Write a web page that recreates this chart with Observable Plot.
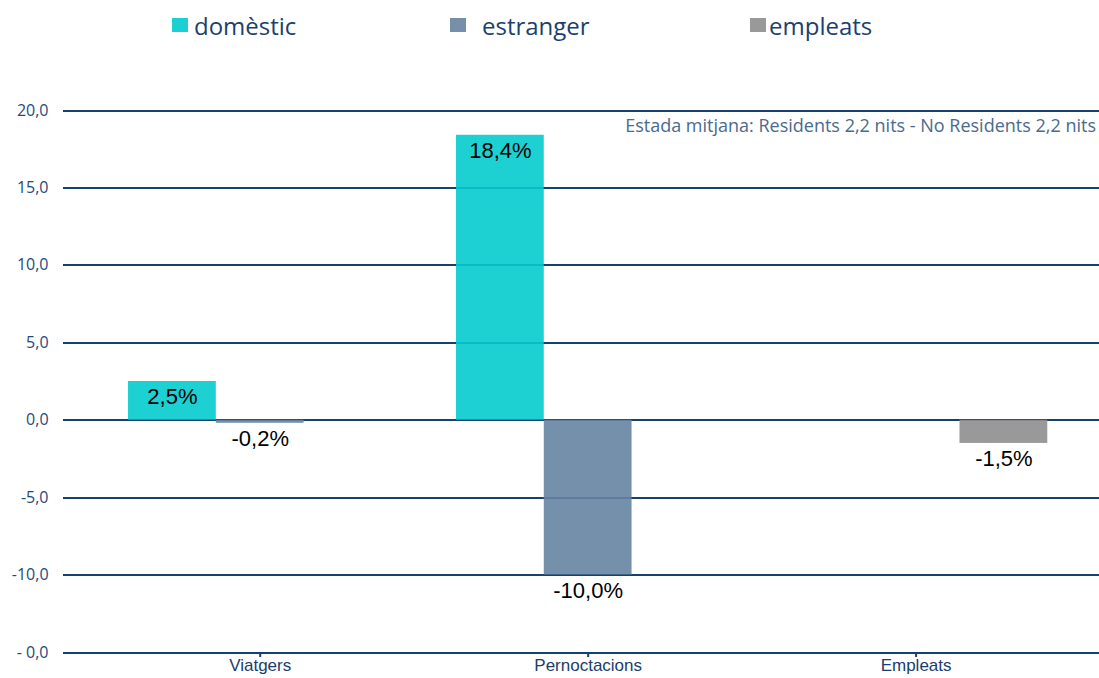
<!DOCTYPE html>
<html>
<head>
<meta charset="utf-8">
<script src="https://cdn.jsdelivr.net/npm/d3@7"></script>
<script src="https://cdn.jsdelivr.net/npm/@observablehq/plot@0.6"></script>
<style>
  html, body { margin: 0; padding: 0; background: #ffffff; }
  body { width: 1099px; height: 678px; overflow: hidden; position: relative; font-family: "Open Sans", sans-serif; }
  #legend { position: absolute; left: 0; top: 0; width: 1099px; height: 60px; }
  .item { position: absolute; top: 8px; height: 34px; display: flex; align-items: center; font-size: 24px; color: #1b3f6e; white-space: nowrap; }
  .sw { width: 16px; height: 14px; display: inline-block; }
  #note { position: absolute; right: 3px; top: 113px; font-size: 18px; line-height: 24px; color: #4a6a90; white-space: nowrap; }
  #chart { position: absolute; left: 0; top: 60px; }
</style>
</head>
<body>
<div id="legend"></div>
<div id="chart"></div>
<div id="note"></div>
<script>
// ---- data ----
const categories = ["Viatgers", "Pernoctacions", "Empleats"];
const seriesNames = ["domèstic", "estranger", "empleats"];
const domesticValues = [2.5, 18.4, null];
const foreignValues = [-0.2, -10.0, null];
const employeeValues = [null, null, -1.5];
const yTicks = [20, 15, 10, 5, 0, -5, -10, -15];
const yTickLabels = ["20,0", "15,0", "10,0", "5,0", "0,0", "-5,0", "-10,0", "- 0,0"];
const seriesColors = ["#04cbcd", "#6684a2", "#8e8e8e"];
const legendColors = ["#1bd0d2", "#7590ab", "#999999"];
const noteText = "Estada mitjana: Residents 2,2 nits - No Residents 2,2 nits";

// ---- table built from the arrays ----
const valueSets = [domesticValues, foreignValues, employeeValues];
const rows = [];
categories.forEach((cat, ci) => {
  seriesNames.forEach((s, si) => {
    const v = valueSets[si][ci];
    if (v != null) rows.push({category: cat, series: s, value: v});
  });
});
const fmt = v => v.toFixed(1).replace(".", ",") + "%";

// ---- legend (HTML) ----
const legendLayout = [
  {swatch: 172, text: 194},
  {swatch: 450, text: 482},
  {swatch: 750, text: 769}
];
const legend = document.getElementById("legend");
seriesNames.forEach((s, i) => {
  const sw = document.createElement("div");
  sw.className = "item";
  sw.style.left = legendLayout[i].swatch + "px";
  sw.innerHTML = `<span class="sw" style="background:${legendColors[i]}"></span>`;
  legend.appendChild(sw);
  const tx = document.createElement("div");
  tx.className = "item";
  tx.style.left = legendLayout[i].text + "px";
  tx.textContent = s;
  legend.appendChild(tx);
});
document.getElementById("note").textContent = noteText;

// ---- chart ----
const gridColor = "#15406f";
const chart = Plot.plot({
  width: 1099,
  height: 632,
  marginTop: 50,
  marginBottom: 40,
  marginLeft: 63,
  marginRight: 0,
  style: {background: "transparent", overflow: "visible"},
  fx: {domain: categories, paddingInner: 0.197, paddingOuter: 0.178, align: 0.557, round: false, label: null},
  x: {domain: seriesNames, padding: 0, round: false, axis: null},
  y: {domain: [-15, 20], axis: null},
  color: {domain: seriesNames, range: seriesColors},
  marks: [
    Plot.ruleY(yTicks, {stroke: gridColor, strokeWidth: 2, shapeRendering: "crispEdges", insetLeft: -65, insetRight: -52}),
    Plot.barY(rows, {fx: "category", x: "series", y: "value", fill: "series", fillOpacity: 0.9}),
    Plot.text(rows, {
      fx: "category", x: "series", y: "value",
      text: d => fmt(d.value),
      lineAnchor: "top", dy: 7,
      fill: "#000000", fontSize: 22, fontFamily: "Liberation Sans, Arial, sans-serif"
    }),
    Plot.axisY(yTicks, {
      tickSize: 0, tickPadding: 80,
      tickFormat: d => yTickLabels[yTicks.indexOf(d)],
      fill: "#1f4a7c", fontSize: 16, fontFamily: "Open Sans, sans-serif", label: null
    }),
    Plot.axisFx({
      anchor: "bottom", tickSize: 5, tickPadding: 1, stroke: gridColor, strokeWidth: 2,
      fill: "#1a3d6b", fontSize: 17, fontFamily: "Liberation Sans, Arial, sans-serif", label: null
    })
  ]
});
document.getElementById("chart").appendChild(chart);
</script>
</body>
</html>
